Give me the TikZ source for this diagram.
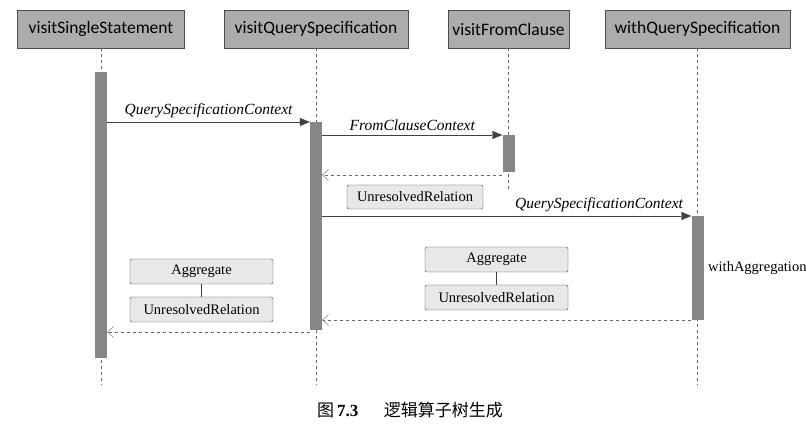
\documentclass[tikz,border=0pt]{standalone}
\usepackage{fontspec}
\setmainfont{Liberation Serif}
\setsansfont{Carlito}
\newfontfamily\cjk{Noto Sans CJK SC}
\usetikzlibrary{arrows.meta,positioning}

\begin{document}
\begin{tikzpicture}[x=1pt,y=-1pt,
  head/.style={draw=black!70,fill=gray!65,minimum height=38pt,inner sep=2pt,font=\sffamily\fontsize{17.5}{20}\selectfont},
  life/.style={dashed,draw=black!60},
  bar/.style={fill=gray!95,minimum width=12pt,inner sep=0pt,anchor=north},
  call/.style={-{Triangle[length=10pt,width=8pt]},draw=black!75},
  back/.style={dashed,-{Straight Barb[length=6pt,width=11pt]},draw=black!60},
  msg/.style={above,inner sep=4pt,font=\rmfamily\itshape\fontsize{15.5}{18}\selectfont},
  plan/.style={draw=black!75,fill=gray!18,rounded corners=2pt,minimum width=143pt,minimum height=25pt,inner sep=2pt,font=\rmfamily\fontsize{14.5}{17}\selectfont}]
  \useasboundingbox (0,0) rectangle (806,427);
  % the four visitors
  \node[head,minimum width=167pt] (vss) at (101,29) {visitSingleStatement};
  \node[head,minimum width=184pt] (vqs) at (316,29) {visitQuerySpecification};
  \node[head,minimum width=121pt] (vfc) at (508.5,29) {visitFromClause};
  \node[head,minimum width=185pt] (wqs) at (697.5,29) {withQuerySpecification};
  \coordinate (e1) at (101,385);
  \coordinate (e2) at (316,385);
  \coordinate (e3) at (508.5,190);
  \coordinate (e4) at (697.5,385);
  \draw[life] (vss.south) -- (e1);
  \draw[life] (vqs.south) -- (e2);
  \draw[life] (vfc.south) -- (e3);
  \draw[life] (wqs.south) -- (e4);
  % activations
  \node[bar,minimum height=286pt] (b1) at (101,72) {};
  \node[bar,minimum height=208pt] (b2) at (316,122) {};
  \node[bar,minimum height=37pt] (b3) at (508.5,135) {};
  \node[bar,minimum height=104pt] (b4) at (697.5,216) {};
  % messages
  \coordinate (m1) at (0,122);
  \coordinate (m2) at (0,135);
  \coordinate (r1) at (0,175);
  \coordinate (m3) at (0,216);
  \coordinate (r2) at (0,320);
  \coordinate (r3) at (0,332);
  \draw[call] (b1.east |- m1) -- node[msg] {QuerySpecificationContext} (b2.west |- m1);
  \draw[call] (b2.east |- m2) -- node[msg] {FromClauseContext} (b3.west |- m2);
  \draw[back] (b3.west |- r1) -- (b2.east |- r1);
  \draw[call] (b2.east |- m3) -- node[msg,pos=0.75] {QuerySpecificationContext} (b4.west |- m3);
  \draw[back] (b4.west |- r2) -- (b2.east |- r2);
  \draw[back] (b2.west |- r3) -- (b1.east |- r3);
  \node[right=1pt of b4,font=\rmfamily\fontsize{14.5}{17}\selectfont] (agg) {withAggregation};
  % plans
  \node[plan,minimum width=136pt,minimum height=24pt] (ur1) at (415,197) {UnresolvedRelation};
  \node[plan] (ag2) at (496.5,259.5) {Aggregate};
  \node[plan] (ur2) at (496.5,297.5) {UnresolvedRelation};
  \node[plan] (ag3) at (201.5,271.5) {Aggregate};
  \node[plan] (ur3) at (201.5,309.5) {UnresolvedRelation};
  \draw[draw=black!75] (ag2) -- (ur2);
  \draw[draw=black!75] (ag3) -- (ur3);
  % caption
  \node[font=\fontsize{17}{20}\selectfont] (cap) at (410,410) {\cjk 图\,{\rmfamily\bfseries 7.3}\quad\enspace 逻辑算子树生成};
\end{tikzpicture}
\end{document}
